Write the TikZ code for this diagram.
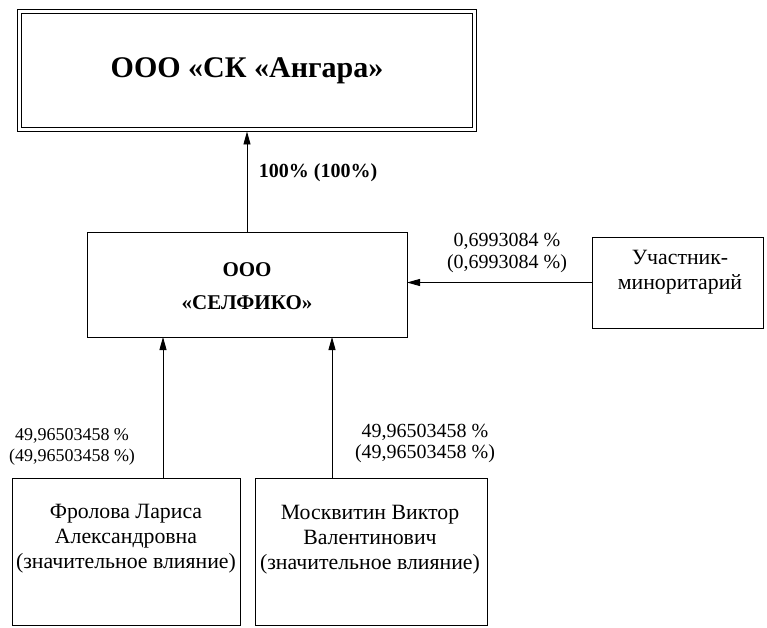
\documentclass[tikz,border=0pt]{standalone}
\usepackage{fontspec}
\setmainfont{Liberation Serif}
\usetikzlibrary{arrows.meta,calc}
\begin{document}
\begin{tikzpicture}[x=1pt,y=-1pt,
  box/.style={draw, line width=0.9pt, inner sep=0pt, outer sep=0pt},
  arr/.style={draw, line width=0.9pt, -{Triangle[length=13pt,width=7pt]}},
  lbl/.style={align=center, inner sep=0pt, font=\fontsize{18}{21}\selectfont},
  boxtext/.style={align=center, inner sep=0pt, font=\fontsize{21.8}{25}\selectfont}]
\useasboundingbox (0,0) rectangle (767,628);
% boxes
\node[box, minimum width=451pt, minimum height=114pt,
      font=\bfseries\fontsize{30}{34}\selectfont] (top) at (247,70.5) {ООО «СК «Ангара»};
\draw[line width=0.9pt] ([shift={(-4,-4)}]top.north west) rectangle ([shift={(4,4)}]top.south east);
\node[box, minimum width=320pt, minimum height=105pt] (sel) at (247,284.5) {};
\node[boxtext, font=\bfseries\fontsize{21}{33}\selectfont] (seltext) at (247,286) {ООО\\«СЕЛФИКО»};
\node[box, minimum width=171pt, minimum height=91pt] (min) at (677.5,282.5) {};
\node[boxtext] (mintext) at (680,272) {Участник-\\миноритарий};
\node[box, minimum width=228pt, minimum height=147pt] (fl) at (126,551.5) {};
\node[boxtext] (fltext) at (126,539) {Фролова Лариса\\Александровна\\(значительное влияние)};
\node[box, minimum width=232pt, minimum height=147pt] (mv) at (371,551.5) {};
\node[boxtext] (mvtext) at (370,540) {Москвитин Виктор\\Валентинович\\(значительное влияние)};
% connectors
\draw[arr] (sel.north) -- ([shift={(0,4)}]top.south);
\draw[arr] (min.west) -- (min.west -| sel.east);
\draw[arr] ([xshift=37pt]fl.north) -- ([xshift=37pt]fl.north |- sel.south);
\draw[arr] ([xshift=-39pt]mv.north) -- ([xshift=-39pt]mv.north |- sel.south);
% labels
\node[lbl, font=\bfseries\fontsize{20}{22}\selectfont] (l1) at (318,173) {100\% (100\%)};
\node[lbl, font=\fontsize{20}{22}\selectfont] (l2) at (507,253) {0,6993084 \%\\(0,6993084 \%)};
\node[lbl] (l3) at (72,447) {49,96503458 \%\\(49,96503458 \%)};
\node[lbl, font=\fontsize{20}{21}\selectfont] (l4) at (425,443) {49,96503458 \%\\(49,96503458 \%)};
\end{tikzpicture}
\end{document}
